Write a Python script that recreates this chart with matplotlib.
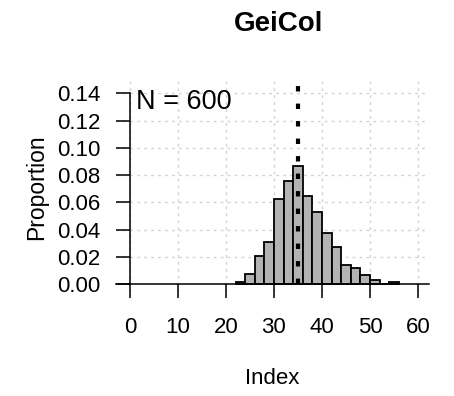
import numpy as np
import matplotlib
matplotlib.use('Agg')
from matplotlib import pyplot as plt

plt.rcParams['font.family'] = ['Liberation Sans', 'DejaVu Sans']

# histogram (bins of width 2)
bin_left = [22, 24, 26, 28, 30, 32, 34, 36, 38, 40, 42, 44, 46, 48, 50, 52, 54]
proportion = [0.0017, 0.0075, 0.0206, 0.0312, 0.0624, 0.0759, 0.0865, 0.0649,
              0.0526, 0.0378, 0.0275, 0.0140, 0.0115, 0.0066, 0.0027, 0.0, 0.0017]
bin_width = 2
mean_index = 35
n_obs = 600
x_ticks = [0, 10, 20, 30, 40, 50, 60]
y_ticks = [0.00, 0.02, 0.04, 0.06, 0.08, 0.10, 0.12, 0.14]

fig = plt.figure(figsize=(4.54, 3.96), dpi=100)
ax = fig.add_axes([0.2546, 0.2621, 0.6903, 0.5328])

ax.set_xlim(-3.0, 62.3)
ax.set_ylim(-0.006, 0.149)

# grid like R's grid()
for xv in x_ticks:
    ax.axvline(xv, color='#d3d3d3', lw=1, linestyle=(0, (2, 3)), zorder=0)
for yv in y_ticks[1:]:
    ax.axhline(yv, color='#d3d3d3', lw=1, linestyle=(0, (2, 3)), zorder=0)

ax.bar(bin_left, proportion, width=bin_width, align='edge',
       color='#b3b3b3', edgecolor='black', linewidth=1.3, zorder=2)

ax.plot([mean_index, mean_index], [0, 0.152], color='black', lw=3.0,
        linestyle=(0, (1.3, 2.9)), clip_on=False, zorder=3)

ax.text(1.2, 0.1335, 'N = ' + str(n_obs), fontsize=19.5, va='center', ha='left')

for s in ['top', 'right']:
    ax.spines[s].set_visible(False)
ax.spines['left'].set_position(('data', 0))
ax.spines['left'].set_bounds(0, 0.14)
ax.spines['bottom'].set_position(('data', 0))
ax.spines['left'].set_linewidth(1.1)
ax.spines['bottom'].set_linewidth(1.1)

ax.set_xticks(x_ticks)
ax.set_yticks(y_ticks)
ax.set_yticklabels(['%.2f' % v for v in y_ticks])
ax.tick_params(axis='both', direction='out', length=10, width=1.1, labelsize=16)
ax.tick_params(axis='x', pad=14)
ax.tick_params(axis='y', pad=11)

ax.set_xlabel('Index', fontsize=16)
ax.xaxis.set_label_coords(0.5, -0.41)
ax.xaxis.label.set_va('center')
ax.set_ylabel('Proportion', fontsize=16.5)
ax.yaxis.set_label_coords(-0.253, 0.5)
ax.yaxis.label.set_va('center')

fig.text(279 / 454, 1 - 24 / 396, 'GeiCol', fontsize=20, fontweight='bold',
         ha='center', va='center')

fig.savefig('out.png', dpi=100)
